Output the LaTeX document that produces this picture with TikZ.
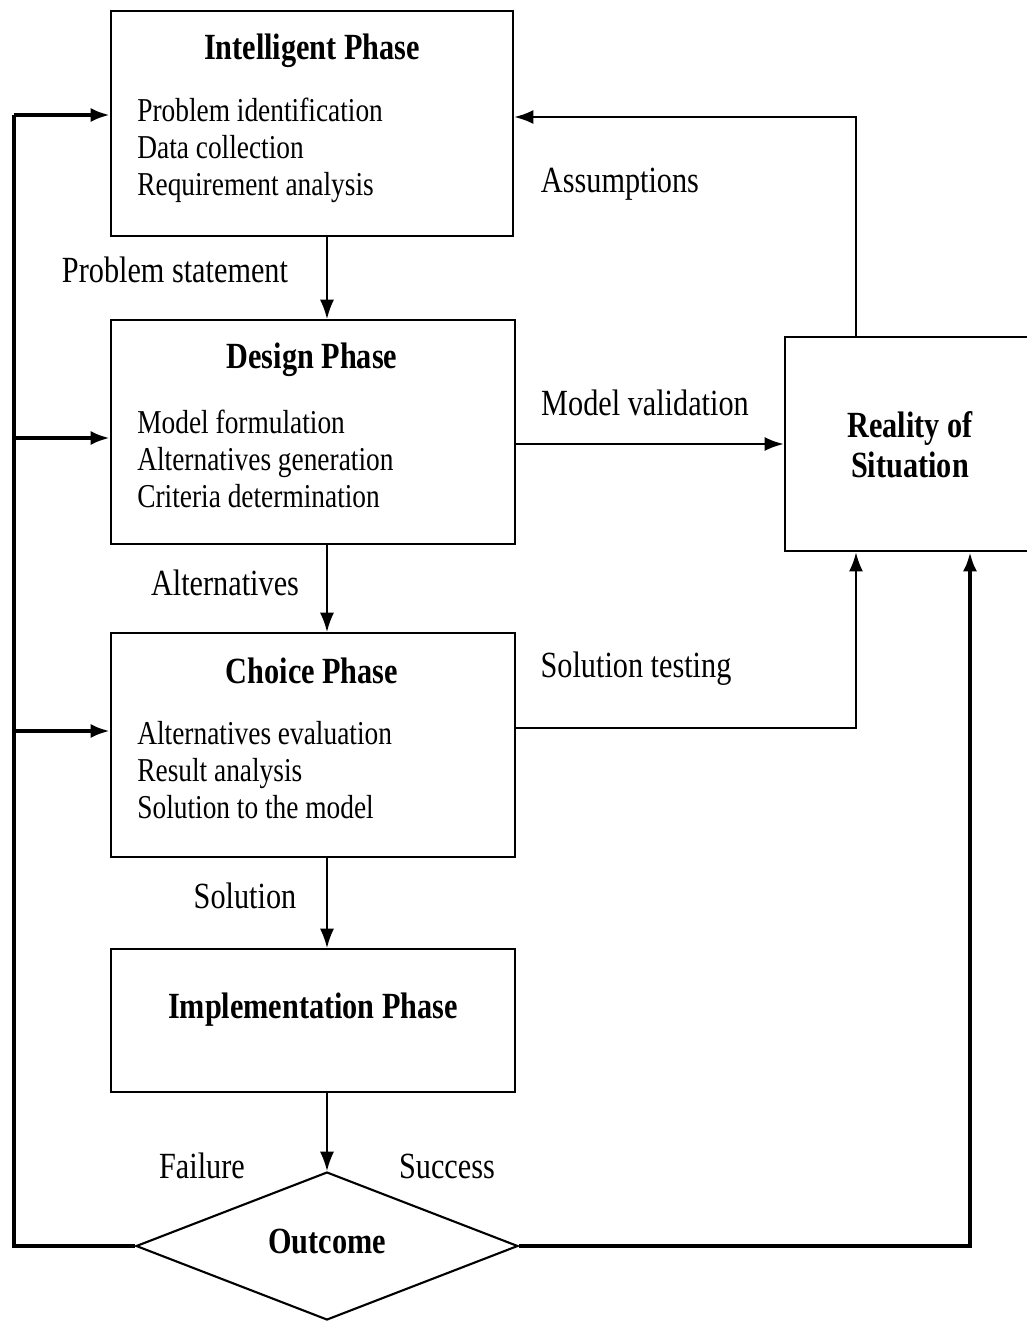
\documentclass[tikz,border=0pt]{standalone}
\usepackage{fontspec}
\setmainfont{Liberation Serif}[FakeStretch=0.82]
\usetikzlibrary{arrows.meta,shapes.geometric}
\tikzset{
  phase/.style={draw, line width=1.2pt, inner sep=0pt},
  title/.style={font=\fontsize{21}{23}\selectfont\bfseries, inner sep=0pt},
  items/.style={font=\fontsize{19}{21}\selectfont, align=left, anchor=west, inner sep=0pt},
  lbl/.style={font=\fontsize{21}{23}\selectfont, inner sep=0pt},
  tip/.style={-{Latex[length=11pt,width=8pt]}},
  flow/.style={line width=1pt, tip},
  loop/.style={line width=2.2pt},
  back/.style={line width=1.6pt}
}
\begin{document}
\begin{tikzpicture}[x=0.02cm, y=-0.02cm]
  \useasboundingbox (0,0) rectangle (1027,1323);
  % phases
  \node[phase, minimum width=8.04cm, minimum height=4.5cm] (int) at (312,123.5) {};
  \node[phase, minimum width=8.08cm, minimum height=4.48cm] (des) at (313,432) {};
  \node[phase, minimum width=8.08cm, minimum height=4.48cm] (cho) at (313,745) {};
  \node[phase, minimum width=8.08cm, minimum height=2.86cm] (imp) at (313,1020.5) {};
  \node[phase, minimum width=5cm, minimum height=4.28cm] (real) at (910,444) {};
  \node[phase, shape=diamond, minimum width=7.64cm, minimum height=2.96cm] (out) at (327,1246) {};
  \node[title] (intT) at (312,51) {Intelligent Phase};
  \node[title] (desT) at (312,360) {Design Phase};
  \node[title] (choT) at (312,671) {Choice Phase};
  \node[title] (impT) at (313,1010) {Implementation Phase};
  \node[title] (outT) at (327,1241) {Outcome};
  \node[title, align=center] (realT) at (910,445) {Reality of\\Situation};
  \node[items] (intL) at (137,150) {Problem identification\\Data collection\\Requirement analysis};
  \node[items] (desL) at (137,459) {Model formulation\\Alternatives generation\\Criteria determination};
  \node[items] (choL) at (137,770) {Alternatives evaluation\\Result analysis\\Solution to the model};
  % main flow
  \draw[flow] (int.south -| out.north) -- (des.north -| out.north);
  \draw[flow] (des.south -| out.north) -- (cho.north -| out.north);
  \draw[flow] (cho.south -| out.north) -- (imp.north -| out.north);
  \draw[flow] (imp.south -| out.north) -- (out.north);
  % feedback
  \coordinate (lft) at (14,1246);
  \coordinate (topL) at (14,115);
  \coordinate (midL) at (14,438);
  \coordinate (lowL) at (14,731);
  \coordinate (rgt) at (970,1246);
  \coordinate (fb) at (856,117);
  \coordinate (st) at (856,728);
  \draw[loop] (out.west) -- (lft) -- (topL);
  \draw[loop, tip] (topL) -- (topL -| int.west);
  \draw[loop, tip] (midL) -- (midL -| des.west);
  \draw[loop, tip] (lowL) -- (lowL -| cho.west);
  \draw[loop, tip] (out.east) -- (rgt) -- (rgt |- real.south);
  \draw[back, tip] (cho.east |- st) -- (st) -- (st |- real.south);
  \draw[back, tip] (real.west -| des.east) -- (real.west);
  \draw[back, tip] (fb |- real.north) -- (fb) -- (fb -| int.east);
  % labels
  \node[lbl] (ps) at (175,270) {Problem statement};
  \node[lbl] (as) at (620,184) {Assumptions};
  \node[lbl] (mv) at (645,403) {Model validation};
  \node[lbl] (al) at (225,583) {Alternatives};
  \node[lbl] (stl) at (636,669) {Solution testing};
  \node[lbl] (so) at (245,896) {Solution};
  \node[lbl] (fa) at (202,1166) {Failure};
  \node[lbl] (su) at (447,1166) {Success};
\end{tikzpicture}
\end{document}
